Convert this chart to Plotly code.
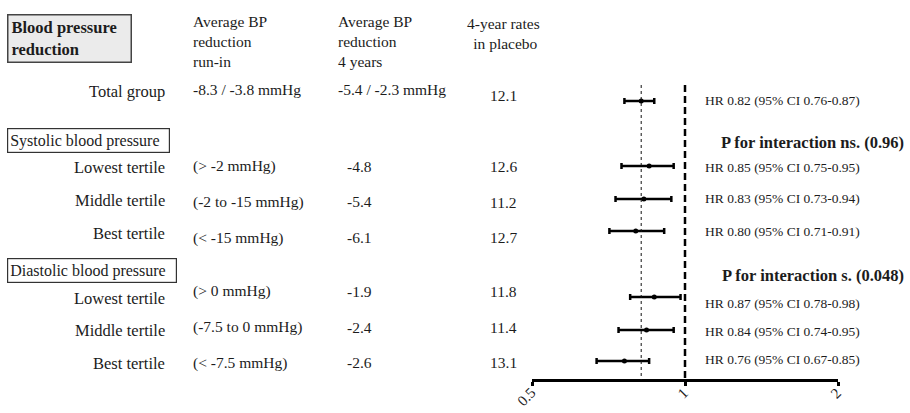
import math
import plotly.graph_objects as go

W, H = 910, 413

# ---------------- data ----------------
groups = ["Total group", "Lowest tertile", "Middle tertile", "Best tertile",
          "Lowest tertile", "Middle tertile", "Best tertile"]
runin_reduction = ["-8.3 / -3.8 mmHg", "(> -2 mmHg)", "(-2 to -15 mmHg)", "(< -15 mmHg)",
                   "(> 0 mmHg)", "(-7.5 to 0 mmHg)", "(< -7.5 mmHg)"]
four_year_reduction = ["-5.4 / -2.3 mmHg", "-4.8", "-5.4", "-6.1", "-1.9", "-2.4", "-2.6"]
placebo_rate = [12.1, 12.6, 11.2, 12.7, 11.8, 11.4, 13.1]
hr = [0.82, 0.85, 0.83, 0.80, 0.87, 0.84, 0.76]
ci_low = [0.76, 0.75, 0.73, 0.71, 0.78, 0.74, 0.67]
ci_high = [0.87, 0.95, 0.94, 0.91, 0.98, 0.95, 0.85]
section_titles = ["Systolic blood pressure", "Diastolic blood pressure"]
interaction_texts = ["P for interaction ns. (0.96)", "P for interaction s. (0.048)"]
col_headers = ["Average BP<br>reduction<br>run-in", "Average BP<br>reduction<br>4 years",
               "4-year rates<br> in placebo"]
tick_vals = [0.5, 1, 2]
tick_text = ["0.5", "1", "2"]
null_hr = 1.0
overall_hr = hr[0]

# ---------------- layout constants (pixel positions) ----------------
bar_y = [101, 166, 199, 231, 297, 330, 361]
label_y = [91, 167, 200, 233, 298, 330, 363]
runin_y = [89, 166, 202, 238, 291, 327, 363]
four_y = [89, 166, 201, 237, 291, 327, 362]
rate_y = [95, 166, 202, 237, 291, 327, 362]
hr_y = [100, 167, 198, 231, 303, 331, 359]
four_x = [336, 345, 345, 345, 345, 345, 345]
section_top = [128, 258]
section_w = [157, 164]
interaction_y = [142, 275]
axis_y = 380
line_top = 85

FONT = "Liberation Serif"
TXT = "#1c1c1c"


def px(x):
    return x / W


fig = go.Figure()

fig.add_trace(go.Scatter(
    x=hr, y=bar_y, mode="markers",
    marker=dict(color="black", size=5),
    error_x=dict(type="data", symmetric=False,
                 array=[h - m for h, m in zip(ci_high, hr)],
                 arrayminus=[m - l for m, l in zip(hr, ci_low)],
                 color="black", thickness=2.5, width=3),
    hoverinfo="skip", showlegend=False, cliponaxis=False,
))

ann = []


def A(text, x, y, size, xanchor="left", bold=False, **kw):
    t = f"<b>{text}</b>" if bold else text
    d = dict(text=t, x=px(x), y=y, xref="paper", yref="y", xanchor=xanchor,
             yanchor="middle", showarrow=False,
             font=dict(family=FONT, size=size, color=TXT))
    d.update(kw)
    ann.append(d)


# header box
ann.append(dict(text="<b>Blood pressure<br>reduction</b>", x=px(7), y=14, xref="paper", yref="y",
                xanchor="left", yanchor="top", showarrow=False, align="left",
                width=116, height=40, borderpad=3, bgcolor="#ebebeb",
                bordercolor="#444", borderwidth=1.5,
                font=dict(family=FONT, size=16.5, color=TXT)))

# column headers
A(col_headers[0], 191, 41, 15.5, align="left")
A(col_headers[1], 336, 41, 15.5, align="left")
A(col_headers[2], 503, 33, 15.5, xanchor="center", align="center")

# rows
for i in range(len(groups)):
    A(groups[i], 167, label_y[i], 16.5, xanchor="right")
    A(runin_reduction[i], 191, runin_y[i], 15.5)
    A(four_year_reduction[i], four_x[i], four_y[i], 15.5)
    A(f"{placebo_rate[i]:.1f}", 503, rate_y[i], 15.5, xanchor="center")
    A(f"HR {hr[i]:.2f} (95% CI {ci_low[i]:.2f}-{ci_high[i]:.2f})", 703, hr_y[i], 13.5)

# section boxes and interaction text
for k in range(2):
    ann.append(dict(text=section_titles[k], x=px(7), y=section_top[k], xref="paper", yref="y",
                    xanchor="left", yanchor="top", showarrow=False, align="left",
                    width=section_w[k], height=19, borderpad=2,
                    bordercolor="#333", borderwidth=1.2,
                    font=dict(family=FONT, size=16, color=TXT)))
    A(interaction_texts[k], 906, interaction_y[k], 16.5, xanchor="right", bold=True)

# rotated tick labels placed just under the axis at the tick values (log axis -> log10 coords)
for v, t in zip(tick_vals, tick_text):
    ann.append(dict(text=t, x=math.log10(v), y=axis_y + 3, xref="x", yref="y",
                    xanchor="right", yanchor="top", textangle=-45, showarrow=False,
                    xshift=8, borderpad=0, font=dict(family=FONT, size=15, color=TXT)))

shapes = [
    dict(type="line", xref="x", yref="y", x0=null_hr, x1=null_hr, y0=line_top, y1=axis_y,
         line=dict(color="black", width=2.5, dash="7px,4px")),
    dict(type="line", xref="x", yref="y", x0=overall_hr, x1=overall_hr, y0=line_top, y1=axis_y,
         line=dict(color="#111", width=1, dash="dot")),
]

fig.update_layout(
    width=W, height=H, margin=dict(l=0, r=0, t=0, b=0, pad=0, autoexpand=False),
    paper_bgcolor="white", plot_bgcolor="rgba(0,0,0,0)",
    annotations=ann, shapes=shapes, showlegend=False,
    xaxis=dict(type="log", range=[-0.30103, 0.30103], domain=[532 / W, 838 / W],
               anchor="free", position=(H - axis_y) / H, automargin=False,
               showline=True, linecolor="black", linewidth=2.5,
               ticks="outside", ticklen=4, tickwidth=2.5, tickcolor="black",
               tickvals=tick_vals, showticklabels=False,
               showgrid=False, zeroline=False, fixedrange=True),
    yaxis=dict(range=[H, 0], domain=[0, 1], visible=False, showgrid=False,
               zeroline=False, fixedrange=True, automargin=False),
)

fig.write_html("out.html", config={"displayModeBar": False})
